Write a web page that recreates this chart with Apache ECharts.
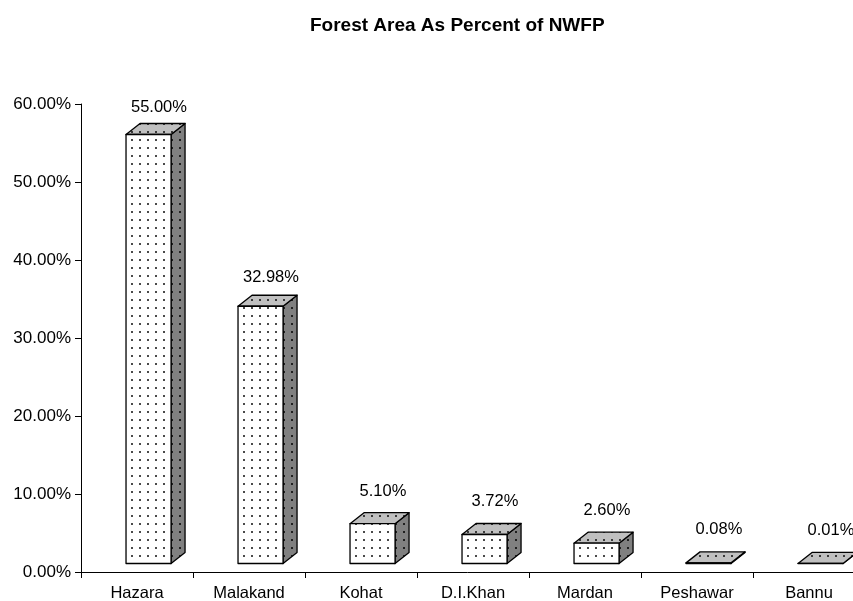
<!DOCTYPE html>
<html>
<head>
<meta charset="utf-8">
<title>Forest Area As Percent of NWFP</title>
<script src="https://cdn.jsdelivr.net/npm/echarts@6/dist/echarts.min.js"></script>
<style>
  html, body { margin: 0; padding: 0; background: #ffffff; }
  #chart { width: 853px; height: 601px; }
</style>
</head>
<body>
<div id="chart"></div>
<script>
// Districts and their share of the province's forest area (%)
const districts = ['Hazara', 'Malakand', 'Kohat', 'D.I.Khan', 'Mardan', 'Peshawar', 'Bannu'];
const forestShare = [55.00, 32.98, 5.10, 3.72, 2.60, 0.08, 0.01];
// Value axis ticks (%)
const yTicks = [0, 10, 20, 30, 40, 50, 60];

const FONT = '"Liberation Sans", Arial, Helvetica, sans-serif';

// Dotted fill tiles for the three visible faces of each column
function dotTile(bg, dot) {
  const c = document.createElement('canvas');
  c.width = 8; c.height = 8;
  const g = c.getContext('2d');
  g.fillStyle = bg;
  g.fillRect(0, 0, 8, 8);
  g.fillStyle = dot;
  g.fillRect(3, 3, 2, 2);
  return { image: c, repeat: 'repeat' };
}
const frontFill = dotTile('#ffffff', '#4a4a4a');
const topFill = dotTile('#c0c0c0', '#3a3a3a');
const sideFill = dotTile('#808080', '#202020');

const chart = echarts.init(document.getElementById('chart'), null, { renderer: 'canvas' });

function renderColumn(params, api) {
  const i = api.value(0);
  const v = api.value(1);
  const base = api.coord([i, 0]);
  const tip = api.coord([i, v]);
  const band = api.size([1, 0])[0];
  const cx = base[0];
  // front face position within the category band, plus the depth offset
  const xl = cx - band * 0.098;
  const xr = cx + band * 0.304;
  const lift = 8.5;
  const yb = base[1] - lift;
  const yt = tip[1] - lift;
  const dx = 14, dy = -11;
  const edge = { stroke: '#000000', lineWidth: 1.3, lineJoin: 'round' };

  const labelY = base[1] - (base[1] - tip[1]) * 0.985 - 41.5;

  return {
    type: 'group',
    children: [
      {
        type: 'polygon',
        shape: { points: [[xr, yb], [xr, yt], [xr + dx, yt + dy], [xr + dx, yb + dy]] },
        style: Object.assign({ fill: sideFill }, edge)
      },
      {
        type: 'polygon',
        shape: { points: [[xl, yt], [xr, yt], [xr + dx, yt + dy], [xl + dx, yt + dy]] },
        style: Object.assign({ fill: topFill }, edge)
      },
      {
        type: 'rect',
        shape: { x: xl, y: yt, width: xr - xl, height: Math.max(yb - yt, 0.01) },
        style: Object.assign({ fill: frontFill }, edge)
      },
      {
        type: 'text',
        style: {
          text: v.toFixed(2) + '%',
          x: cx + band * 0.196,
          y: labelY,
          align: 'center',
          verticalAlign: 'middle',
          fontSize: 16.5,
          fontFamily: FONT,
          fill: '#000000'
        }
      }
    ]
  };
}

const option = {
  backgroundColor: '#ffffff',
  animation: false,
  title: {
    text: 'Forest Area As Percent of NWFP',
    left: 310,
    top: 16,
    padding: 0,
    textStyle: { fontSize: 19, fontWeight: 'bold', fontFamily: FONT, color: '#000000' }
  },
  grid: {
    left: 81, top: 104, width: 784, height: 468,
    containLabel: false,
    outerBoundsMode: 'none'
  },
  xAxis: {
    type: 'category',
    data: districts,
    boundaryGap: true,
    axisLine: { show: true, lineStyle: { color: '#000000', width: 1 } },
    axisTick: { show: true, length: 6, lineStyle: { color: '#000000' } },
    axisLabel: { fontSize: 16.5, fontFamily: FONT, color: '#000000', margin: 13, interval: 0 },
    splitLine: { show: false }
  },
  yAxis: {
    type: 'value',
    min: yTicks[0],
    max: yTicks[yTicks.length - 1],
    interval: yTicks[1] - yTicks[0],
    axisLine: { show: true, lineStyle: { color: '#000000', width: 1 } },
    axisTick: { show: true, length: 6, lineStyle: { color: '#000000' } },
    axisLabel: {
      fontSize: 17, fontFamily: FONT, color: '#000000', margin: 10,
      formatter: (val) => val.toFixed(2) + '%'
    },
    splitLine: { show: false }
  },
  series: [{
    type: 'custom',
    renderItem: renderColumn,
    clip: false,
    encode: { x: 0, y: 1 },
    data: districts.map((d, i) => [i, forestShare[i]])
  }]
};

chart.setOption(option);
</script>
</body>
</html>
